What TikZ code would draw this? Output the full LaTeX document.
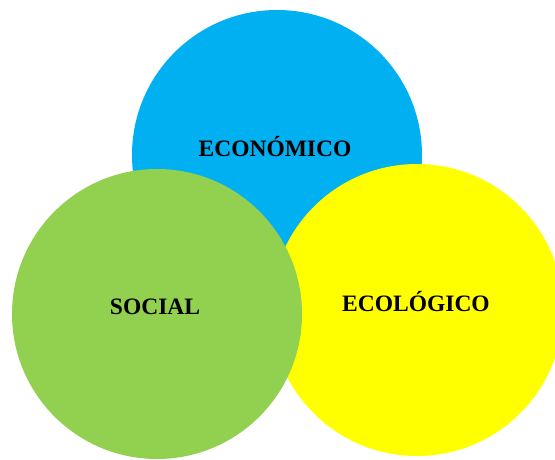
\documentclass[tikz,border=0pt]{standalone}
\usepackage{fontspec}
\setmainfont{Liberation Serif}
\definecolor{ecoblue}{HTML}{00B0F0}
\definecolor{socgreen}{HTML}{92D050}
\definecolor{ecoyellow}{HTML}{FFFF00}
\begin{document}
\begin{tikzpicture}[x=1pt,y=-1pt,
  disc/.style={circle, minimum size=290pt, inner sep=0pt, draw=none},
  lbl/.style={font=\bfseries\fontsize{23.5}{26}\selectfont, text=black}]
\useasboundingbox (0,0) rectangle (555,460);
\clip (0,0) rectangle (555,460);
\node[disc, fill=ecoblue] (eco) at (277,155) {};
\node[disc, fill=ecoyellow, minimum size=292pt] (ecol) at (417,310) {};
\node[disc, fill=socgreen] (soc) at (157,314) {};
\node[lbl] (t1) at (275,147) {ECONÓMICO};
\node[lbl] (t2) at (155,307) {SOCIAL};
\node[lbl] (t3) at (416,302) {ECOLÓGICO};
\end{tikzpicture}
\end{document}
